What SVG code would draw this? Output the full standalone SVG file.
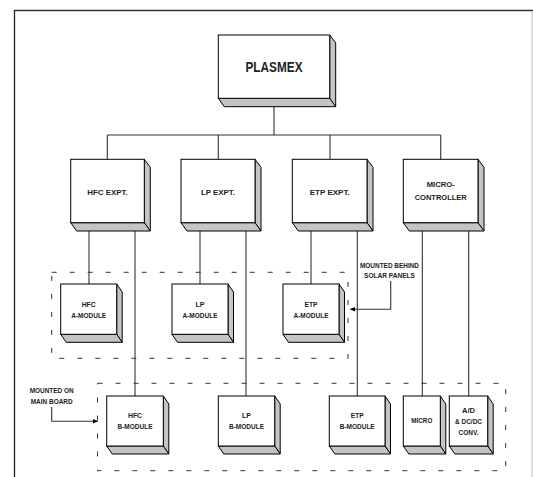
<svg xmlns="http://www.w3.org/2000/svg" width="533" height="477" viewBox="0 0 533 477">
<style>
.f{fill:#fff;stroke:#000;stroke-width:1}
.s{fill:#c4c4c4;stroke:#000;stroke-width:1;stroke-linejoin:round}
.t{font-family:"Liberation Sans",Arial,sans-serif;font-weight:bold;fill:#222;text-anchor:middle}
.ln{stroke:#333;stroke-width:1.1;fill:none}
.d{stroke:#333;stroke-width:1;fill:none;stroke-dasharray:5 13}
</style>
<defs>
<marker id="ah" markerWidth="6" markerHeight="6" refX="5" refY="3" orient="auto" markerUnits="userSpaceOnUse">
<path d="M0,0.8 L5,3 L0,5.2 Z" fill="#000"/>
</marker>
</defs>
<rect width="533" height="477" fill="#fff"/>
<g id="frame">
<line x1="14" y1="10.5" x2="533" y2="10.5" stroke="#333" stroke-width="1.3"/>
<line x1="14.5" y1="10" x2="14.5" y2="477" stroke="#222" stroke-width="1.3"/>
<line x1="532" y1="11" x2="532" y2="477" stroke="#ccc" stroke-width="1.3"/>
</g>
<g id="regions">
<rect class="d" x="51.7" y="272.3" width="296.3" height="86"/>
<rect class="d" x="97.5" y="383.3" width="408.2" height="87.4"/>
</g>
<g id="connectors">
<line class="ln" x1="274" y1="106.7" x2="274" y2="135"/>
<line class="ln" x1="107.3" y1="135" x2="440.7" y2="135"/>
<line class="ln" x1="107.3" y1="135" x2="107.3" y2="159.3"/>
<line class="ln" x1="218.3" y1="135" x2="218.3" y2="159.3"/>
<line class="ln" x1="330" y1="135" x2="330" y2="159.3"/>
<line class="ln" x1="440.7" y1="135" x2="440.7" y2="159.3"/>
<line class="ln" x1="89" y1="231" x2="89" y2="284"/>
<line class="ln" x1="135" y1="231" x2="135" y2="396"/>
<line class="ln" x1="200" y1="231" x2="200" y2="284"/>
<line class="ln" x1="246" y1="231" x2="246" y2="396"/>
<line class="ln" x1="311" y1="231" x2="311" y2="284"/>
<line class="ln" x1="357.3" y1="231" x2="357.3" y2="396"/>
<line class="ln" x1="422.3" y1="231" x2="422.3" y2="396" stroke="#666" stroke-width="1.4"/>
<line class="ln" x1="468.7" y1="231" x2="468.7" y2="396"/>
<polyline class="ln" points="390.7,281 390.7,309.3 350,309.3" marker-end="url(#ah)" stroke="#111"/>
<polyline class="ln" points="51.7,407 51.7,421.3 98,421.3" marker-end="url(#ah)" stroke="#111"/>
</g>
<g id="plasmex">
<polygon class="s" points="329.7,35 335.7,43 335.7,106.7 329.7,98.3"/>
<polygon class="s" points="218.3,98.3 329.7,98.3 335.7,106.7 224.3,106.7"/>
<rect class="f" x="218.3" y="35" width="111.4" height="63.3"/>
<text class="t" x="274" y="71.7" font-size="14.5" textLength="57" lengthAdjust="spacingAndGlyphs">PLASMEX</text>
</g>
<g id="hfc-expt">
<polygon class="s" points="144.3,159.3 150.3,167.3 150.3,231 144.3,222.7"/>
<polygon class="s" points="70.7,222.7 144.3,222.7 150.3,231 76.7,231"/>
<rect class="f" x="70.7" y="159.3" width="73.6" height="63.4"/>
<text class="t" x="107.5" y="195" font-size="8" textLength="40.5" lengthAdjust="spacingAndGlyphs">HFC EXPT.</text>
</g>
<g id="lp-expt">
<polygon class="s" points="255,159.3 261,167.3 261,231 255,222.7"/>
<polygon class="s" points="181,222.7 255,222.7 261,231 187,231"/>
<rect class="f" x="181" y="159.3" width="74" height="63.4"/>
<text class="t" x="218" y="195" font-size="8" textLength="34" lengthAdjust="spacingAndGlyphs">LP EXPT.</text>
</g>
<g id="etp-expt">
<polygon class="s" points="367,159.3 373,167.3 373,231 367,222.7"/>
<polygon class="s" points="292.3,222.7 367,222.7 373,231 298.3,231"/>
<rect class="f" x="292.3" y="159.3" width="74.7" height="63.4"/>
<text class="t" x="329.7" y="195" font-size="8" textLength="40" lengthAdjust="spacingAndGlyphs">ETP EXPT.</text>
</g>
<g id="micro-controller">
<polygon class="s" points="478,159.3 484,167.3 484,231 478,222.7"/>
<polygon class="s" points="403.3,222.7 478,222.7 484,231 409.3,231"/>
<rect class="f" x="403.3" y="159.3" width="74.7" height="63.4"/>
<text class="t" x="440.7" y="186.7" font-size="8" textLength="28" lengthAdjust="spacingAndGlyphs">MICRO-</text>
<text class="t" x="440.7" y="200" font-size="8" textLength="52" lengthAdjust="spacingAndGlyphs">CONTROLLER</text>
</g>
<g id="hfc-a-module">
<polygon class="s" points="116.7,284 122.2,292 122.2,342.3 116.7,334.3"/>
<polygon class="s" points="60.7,334.3 116.7,334.3 122.2,342.3 66.2,342.3"/>
<rect class="f" x="60.7" y="284" width="56" height="50.3"/>
<text class="t" x="88.7" y="306.7" font-size="7" textLength="14" lengthAdjust="spacingAndGlyphs">HFC</text>
<text class="t" x="88.7" y="317.7" font-size="7" textLength="35" lengthAdjust="spacingAndGlyphs">A-MODULE</text>
</g>
<g id="lp-a-module">
<polygon class="s" points="228,284 233.5,292 233.5,342.3 228,334.3"/>
<polygon class="s" points="172,334.3 228,334.3 233.5,342.3 177.5,342.3"/>
<rect class="f" x="172" y="284" width="56" height="50.3"/>
<text class="t" x="200" y="306.7" font-size="7" textLength="9" lengthAdjust="spacingAndGlyphs">LP</text>
<text class="t" x="200" y="317.7" font-size="7" textLength="35" lengthAdjust="spacingAndGlyphs">A-MODULE</text>
</g>
<g id="etp-a-module">
<polygon class="s" points="339,284 344.5,292 344.5,342.3 339,334.3"/>
<polygon class="s" points="283,334.3 339,334.3 344.5,342.3 288.5,342.3"/>
<rect class="f" x="283" y="284" width="56" height="50.3"/>
<text class="t" x="311" y="306.7" font-size="7" textLength="13" lengthAdjust="spacingAndGlyphs">ETP</text>
<text class="t" x="311" y="317.7" font-size="7" textLength="35" lengthAdjust="spacingAndGlyphs">A-MODULE</text>
</g>
<g id="hfc-b-module">
<polygon class="s" points="163.3,396 168.8,404 168.8,454 163.3,446"/>
<polygon class="s" points="106.7,446 163.3,446 168.8,454 112.2,454"/>
<rect class="f" x="106.7" y="396" width="56.6" height="50"/>
<text class="t" x="135" y="417.7" font-size="7" textLength="14" lengthAdjust="spacingAndGlyphs">HFC</text>
<text class="t" x="135" y="429" font-size="7" textLength="35" lengthAdjust="spacingAndGlyphs">B-MODULE</text>
</g>
<g id="lp-b-module">
<polygon class="s" points="274.7,396 280.2,404 280.2,454 274.7,446"/>
<polygon class="s" points="218.3,446 274.7,446 280.2,454 223.8,454"/>
<rect class="f" x="218.3" y="396" width="56.4" height="50"/>
<text class="t" x="246.5" y="417.7" font-size="7" textLength="9" lengthAdjust="spacingAndGlyphs">LP</text>
<text class="t" x="246.5" y="429" font-size="7" textLength="35" lengthAdjust="spacingAndGlyphs">B-MODULE</text>
</g>
<g id="etp-b-module">
<polygon class="s" points="385,396 390.5,404 390.5,454 385,446"/>
<polygon class="s" points="329.3,446 385,446 390.5,454 334.8,454"/>
<rect class="f" x="329.3" y="396" width="55.7" height="50"/>
<text class="t" x="357.2" y="417.7" font-size="7" textLength="13" lengthAdjust="spacingAndGlyphs">ETP</text>
<text class="t" x="357.2" y="429" font-size="7" textLength="35" lengthAdjust="spacingAndGlyphs">B-MODULE</text>
</g>
<g id="micro">
<polygon class="s" points="440.3,396 445.8,404 445.8,454 440.3,446"/>
<polygon class="s" points="403.3,446 440.3,446 445.8,454 408.8,454"/>
<rect class="f" x="403.3" y="396" width="37" height="50"/>
<text class="t" x="421.8" y="422.7" font-size="7" textLength="21" lengthAdjust="spacingAndGlyphs">MICRO</text>
</g>
<g id="ad-dcdc">
<polygon class="s" points="487.7,396 493.2,404 493.2,454 487.7,446"/>
<polygon class="s" points="449.3,446 487.7,446 493.2,454 454.8,454"/>
<rect class="f" x="449.3" y="396" width="38.4" height="50"/>
<text class="t" x="468.5" y="413.3" font-size="7" textLength="13" lengthAdjust="spacingAndGlyphs">A/D</text>
<text class="t" x="468.5" y="424.3" font-size="7" textLength="27" lengthAdjust="spacingAndGlyphs">&amp; DC/DC</text>
<text class="t" x="468.5" y="434.7" font-size="7" textLength="20" lengthAdjust="spacingAndGlyphs">CONV.</text>
</g>
<g id="label-solar">
<text class="t" x="389.5" y="267.7" font-size="7" textLength="59" lengthAdjust="spacingAndGlyphs">MOUNTED BEHIND</text>
<text class="t" x="389.5" y="278.3" font-size="7" textLength="51" lengthAdjust="spacingAndGlyphs">SOLAR PANELS</text>
</g>
<g id="label-main">
<text class="t" x="51.7" y="393.3" font-size="7" textLength="44" lengthAdjust="spacingAndGlyphs">MOUNTED ON</text>
<text class="t" x="51.7" y="404" font-size="7" textLength="42" lengthAdjust="spacingAndGlyphs">MAIN BOARD</text>
</g>
</svg>
